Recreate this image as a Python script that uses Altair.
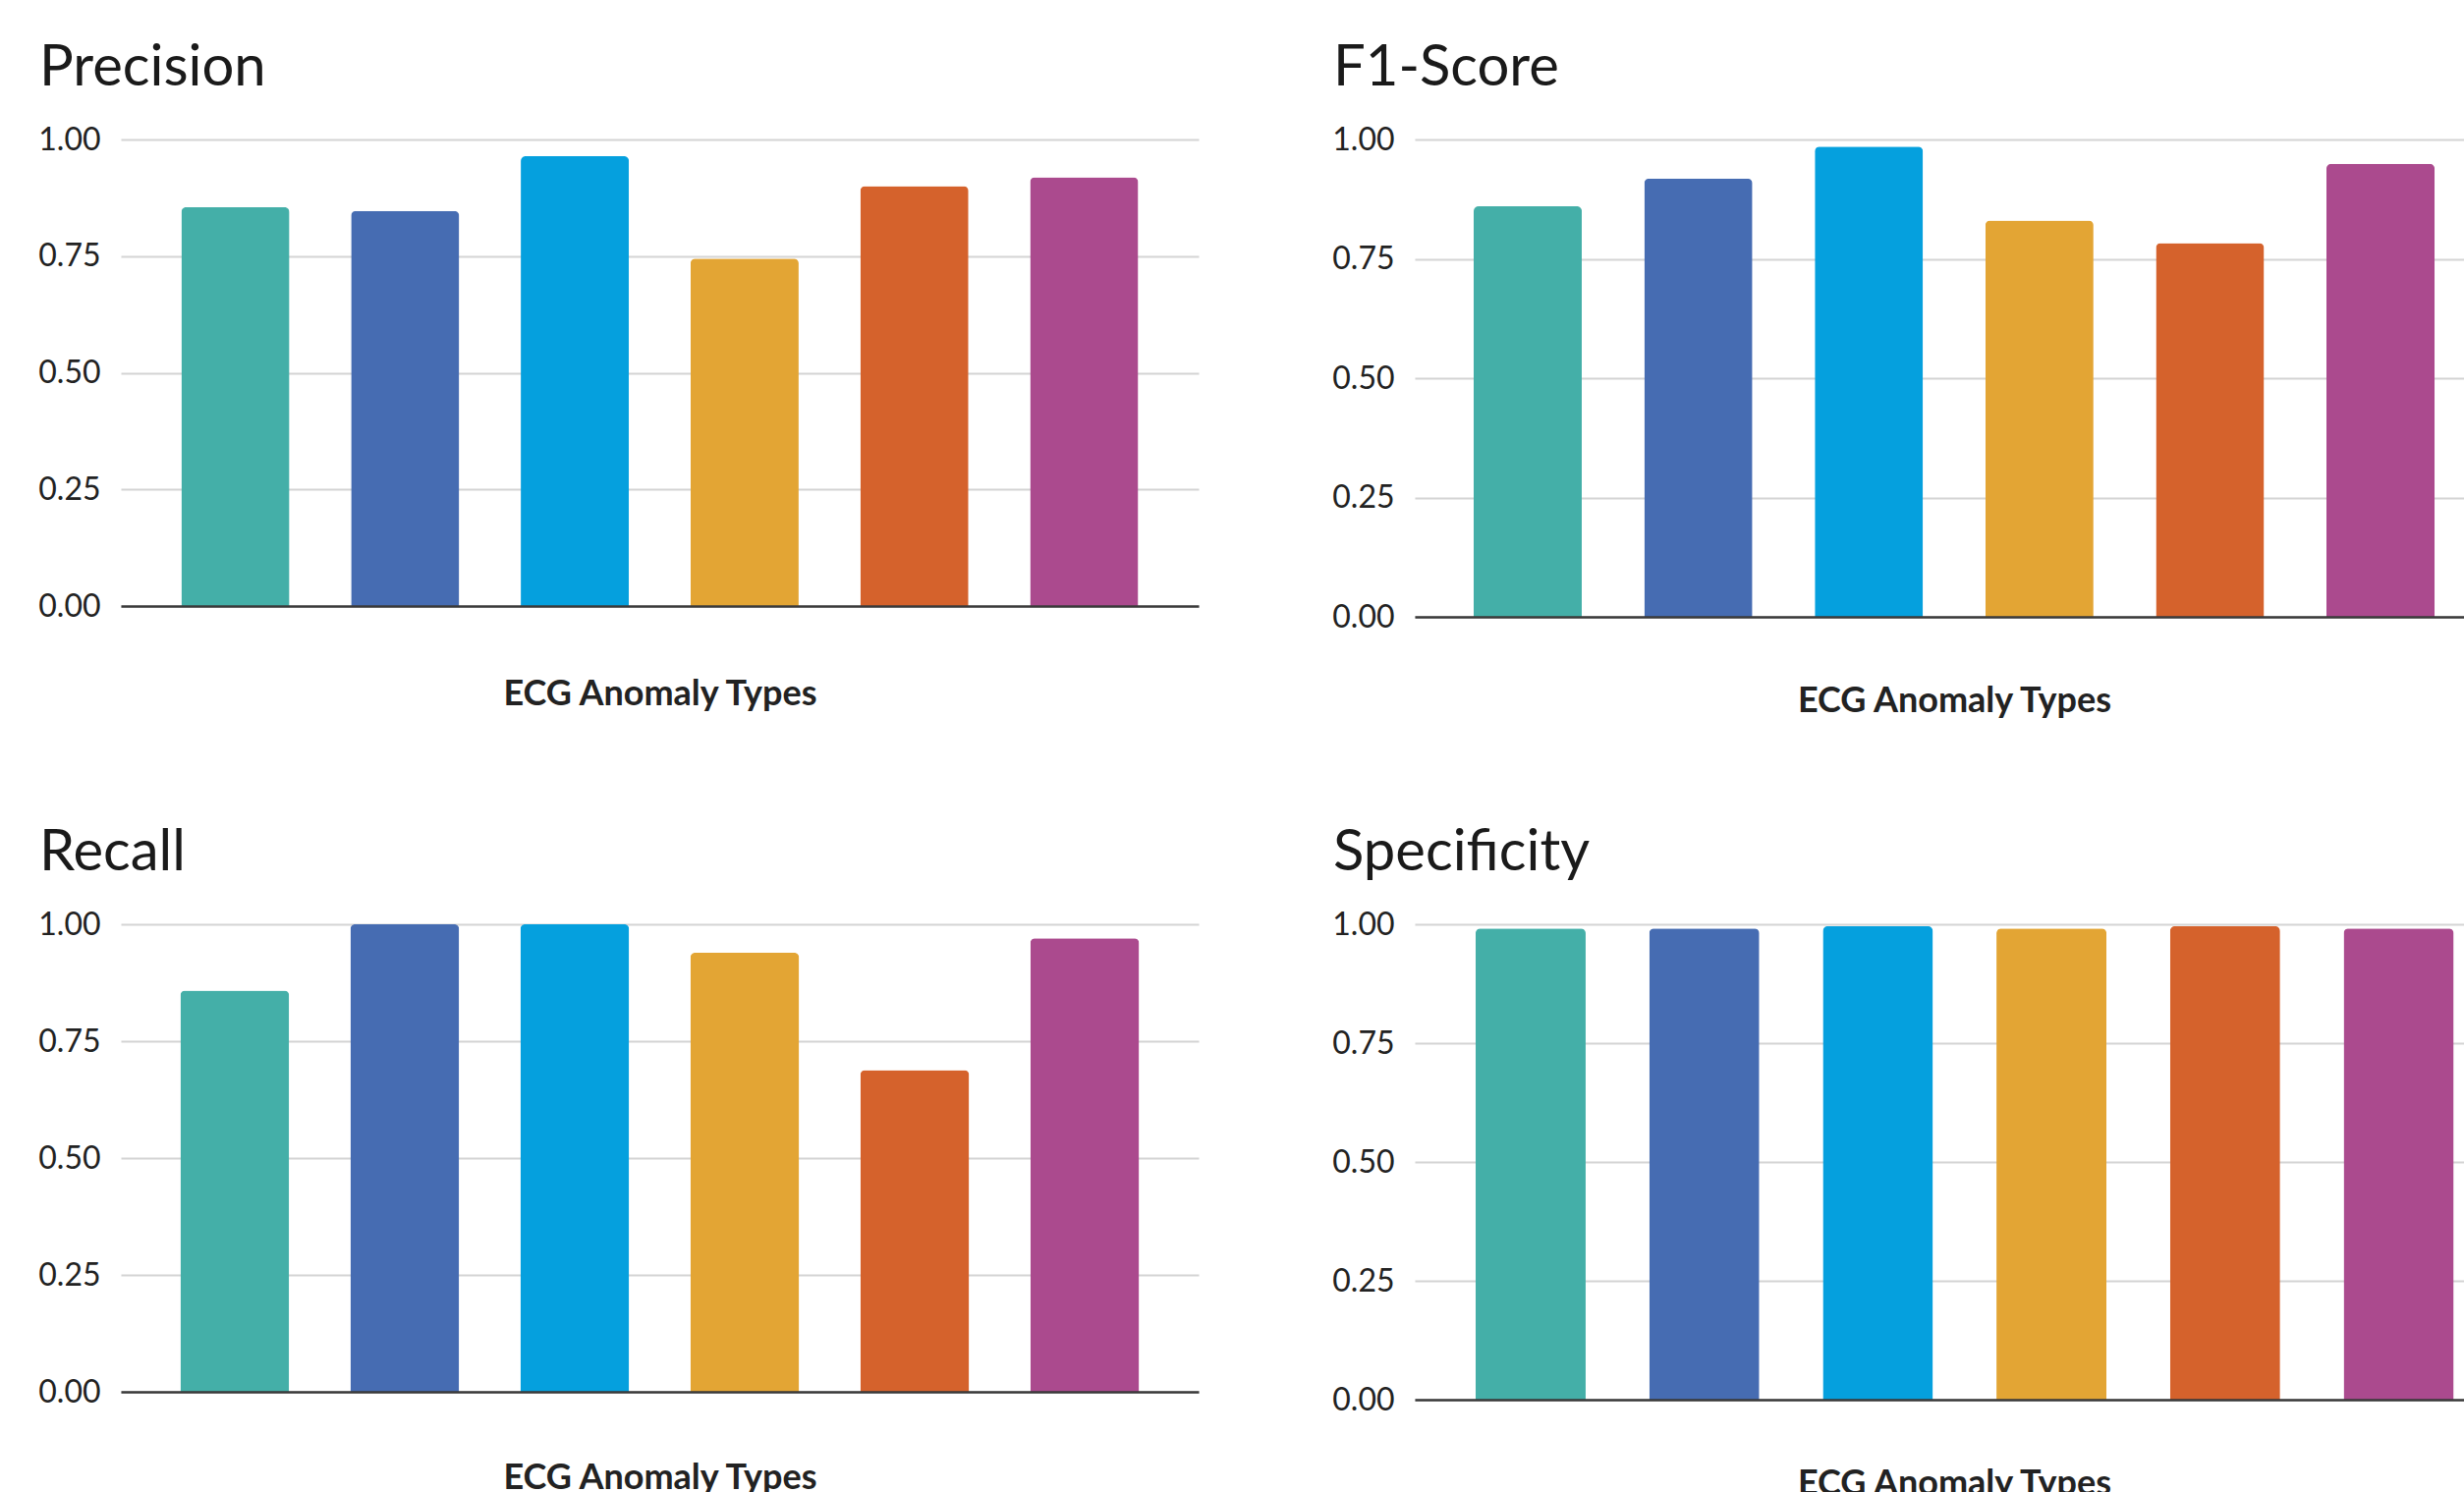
import altair as alt
import pandas as pd

categories = ["Type 1", "Type 2", "Type 3", "Type 4", "Type 5", "Type 6"]
colors = ["#44AFA8", "#466CB2", "#05A0DE", "#E3A534", "#D5622C", "#AB4A8E"]

precision = [0.855, 0.847, 0.964, 0.745, 0.900, 0.919]
f1_score = [0.860, 0.918, 0.985, 0.830, 0.783, 0.949]
recall = [0.858, 1.000, 1.000, 0.939, 0.688, 0.970]
specificity = [0.991, 0.991, 0.996, 0.991, 0.996, 0.991]

y_ticks = [0.0, 0.25, 0.5, 0.75, 1.0]
x_title = "ECG Anomaly Types"
FONT = "Lato"


def panel(name, values, width, height, p_inner, p_outer, align, title_pad, title_x):
    df = pd.DataFrame({"cat": categories, "value": values})
    return (
        alt.Chart(df)
        .mark_bar(cornerRadiusTopLeft=5, cornerRadiusTopRight=5)
        .encode(
            x=alt.X(
                "cat:N",
                sort=categories,
                scale=alt.Scale(paddingInner=p_inner, paddingOuter=p_outer, align=align),
                axis=alt.Axis(
                    title=x_title,
                    labels=False,
                    ticks=False,
                    domain=True,
                    domainColor="#3a3a3a",
                    domainWidth=2.5,
                    grid=False,
                    titleFont=FONT,
                    titleFontSize=36,
                    titleFontWeight="bold",
                    titleColor="#222222",
                    titlePadding=title_pad,
                    titleX=title_x,
                    zindex=1,
                ),
            ),
            y=alt.Y(
                "value:Q",
                scale=alt.Scale(domain=[0, 1], nice=False, zero=True),
                axis=alt.Axis(
                    title=None,
                    values=y_ticks,
                    format=".2f",
                    domain=False,
                    ticks=False,
                    grid=True,
                    gridColor="#D4D4D4",
                    gridWidth=2,
                    labelFont=FONT,
                    labelFontSize=32,
                    labelColor="#222222",
                    labelPadding=21,
                ),
            ),
            color=alt.Color(
                "cat:N",
                scale=alt.Scale(domain=categories, range=colors),
                legend=None,
            ),
        )
        .properties(
            width=width,
            height=height,
            title=alt.TitleParams(
                text=name,
                anchor="start",
                frame="group",
                dx=-83,
                baseline="alphabetic",
                offset=-19,
                font=FONT,
                fontSize=58,
                fontWeight="normal",
                color="#1a1a1a",
            ),
        )
    )


tl = panel("Precision", precision, 1097, 475, 0.363, 0.356, 0.5, 72, 548.5)
tr = panel("F1-Score", f1_score, 1068, 486, 0.366, 0.259, 0.667, 68, 549)
bl = panel("Recall", recall, 1097, 476, 0.36, 0.35, 0.5, 70, 548.5)
br = panel("Specificity", specificity, 1068, 484, 0.366, 0.205, 0.855, 68, 549)

chart = (
    alt.concat(tl, tr, bl, br, columns=2, spacing={"row": 313, "column": 220}, bounds="flush")
    .properties(padding={"left": 38, "top": 41, "right": 0, "bottom": 0}, background="white")
    .configure_view(stroke=None)
)

chart.save("out.html", embed_options={"renderer": "svg", "actions": False})
